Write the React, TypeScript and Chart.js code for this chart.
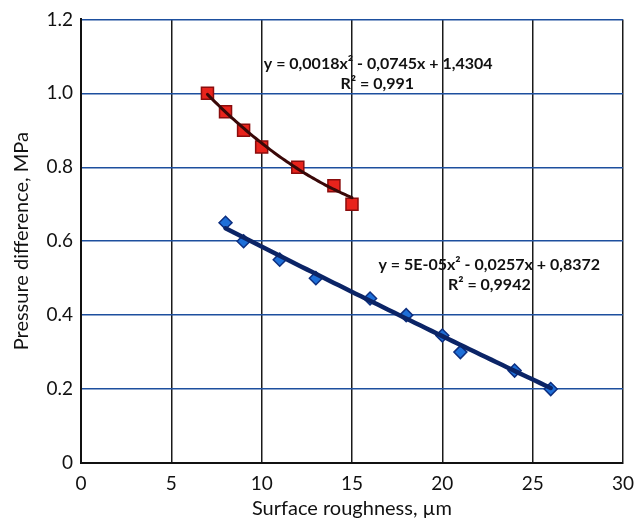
import React, { useEffect, useRef } from "react";
import { Chart, registerables } from "chart.js";

Chart.register(...registerables);

const redX = [7, 8, 9, 10, 12, 14, 15];
const redY = [1.0, 0.95, 0.9, 0.855, 0.8, 0.75, 0.7];
const blueX = [8, 9, 11, 13, 16, 18, 20, 21, 24, 26];
const blueY = [0.65, 0.6, 0.55, 0.5, 0.445, 0.4, 0.345, 0.3, 0.25, 0.2];
const redFit = [0.0018, -0.0745, 1.4304];
const blueFit = [0.00005, -0.0257, 0.8372];
const redFitRange = [7, 15];
const blueFitRange = [8, 26];
const redLabel = ["y = 0,0018x² - 0,0745x + 1,4304", "R² = 0,991"];
const blueLabel = ["y = 5E-05x² - 0,0257x + 0,8372", "R² = 0,9942"];
const xTicks = [0, 5, 10, 15, 20, 25, 30];
const yTicks = [0, 0.2, 0.4, 0.6, 0.8, 1.0, 1.2];

const FONT = "Lato, 'Open Sans', sans-serif";

const trendPlugin = {
  id: "trend",
  afterDatasetsDraw(chart: any) {
    const { ctx, scales } = chart;
    const xs = scales.x, ys = scales.y;
    const draw = (c: number[], r: number[], color: string, w: number) => {
      ctx.save();
      ctx.beginPath();
      ctx.strokeStyle = color;
      ctx.lineWidth = w;
      ctx.lineCap = "round";
      const steps = 60;
      for (let i = 0; i <= steps; i++) {
        const x = r[0] + ((r[1] - r[0]) * i) / steps;
        const y = c[0] * x * x + c[1] * x + c[2];
        const px = xs.getPixelForValue(x), py = ys.getPixelForValue(y);
        if (i === 0) ctx.moveTo(px, py); else ctx.lineTo(px, py);
      }
      ctx.stroke();
      ctx.restore();
    };
    draw(redFit, redFitRange, "#3a0808", 3);
    draw(blueFit, blueFitRange, "#0b2466", 4.5);

    ctx.save();
    ctx.fillStyle = "#111";
    ctx.font = `bold 16px ${FONT}`;
    ctx.textAlign = "center";
    ctx.textBaseline = "middle";
    ctx.fillText(redLabel[0], xs.getPixelForValue(16.45), ys.getPixelForValue(1.08));
    ctx.fillText(redLabel[1], xs.getPixelForValue(16.4), ys.getPixelForValue(1.026));
    ctx.fillText(blueLabel[0], xs.getPixelForValue(22.6), ys.getPixelForValue(0.536));
    ctx.fillText(blueLabel[1], xs.getPixelForValue(22.6), ys.getPixelForValue(0.482));
    ctx.restore();
  },
};

export default function App() {
  const ref = useRef<HTMLCanvasElement | null>(null);
  useEffect(() => {
    document.body.style.margin = "0";
    const chart = new Chart(ref.current!, {
      type: "scatter",
      data: {
        datasets: [
          {
            data: redX.map((x, i) => ({ x, y: redY[i] })),
            pointStyle: "rect",
            pointRadius: 8.5,
            backgroundColor: "#e8231c",
            borderColor: "#8a0d0d",
            borderWidth: 1.5,
          },
          {
            data: blueX.map((x, i) => ({ x, y: blueY[i] })),
            pointStyle: "rectRot",
            pointRadius: 6.5,
            backgroundColor: "#1e6fd8",
            borderColor: "#0d2f80",
            borderWidth: 1.5,
          },
        ],
      },
      options: {
        animation: false,
        responsive: false,
        layout: { padding: { left: 0, top: 16, right: 17, bottom: 0 } },
        plugins: { legend: { display: false }, tooltip: { enabled: false } },
        scales: {
          x: {
            type: "linear",
            min: 0,
            max: 30,
            afterBuildTicks: (s: any) => { s.ticks = xTicks.map((v) => ({ value: v })); },
            afterFit: (s: any) => { s.height = 61; },
            ticks: { color: "#111", font: { family: FONT, size: 19 }, padding: 9 },
            grid: { color: "#1a1a1a", lineWidth: 1.5, drawTicks: false },
            border: { color: "#111", width: 2 },
            title: { display: true, text: "Surface roughness, µm", color: "#111", font: { family: FONT, size: 20 }, padding: { top: 2, bottom: 3 } },
          },
          y: {
            type: "linear",
            min: 0,
            max: 1.2,
            afterBuildTicks: (s: any) => { s.ticks = yTicks.map((v) => ({ value: v })); },
            afterFit: (s: any) => { s.width = 81; },
            ticks: {
              color: "#111",
              font: { family: FONT, size: 19 },
              padding: 8,
              callback: (v: any) => (v === 0 ? "0" : Number(v).toFixed(1)),
            },
            grid: { color: "#1d4f9e", lineWidth: 1.5, drawTicks: false },
            border: { color: "#111", width: 2 },
            title: { display: true, text: "Pressure difference, MPa", color: "#111", font: { family: FONT, size: 20 }, padding: { top: 10, bottom: 4 } },
          },
        },
      },
      plugins: [trendPlugin],
    });
    return () => chart.destroy();
  }, []);
  return <canvas ref={ref} width={643} height={524} style={{ display: "block" }} />;
}
